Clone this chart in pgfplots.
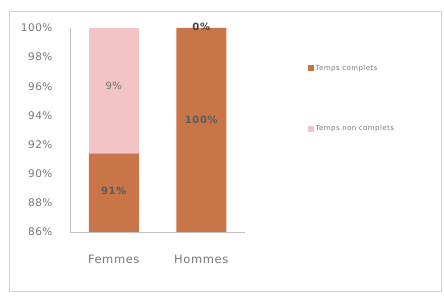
\documentclass[border=0pt]{standalone}
\usepackage{pgfplots}
\pgfplotsset{compat=1.18}
\usepackage{fontspec}
\setmainfont{DejaVu Sans}
\newfontfamily\lab[LetterSpace=5]{DejaVu Sans}
\newfontfamily\blab[LetterSpace=6]{DejaVu Sans}
\definecolor{brun}{RGB}{200,118,72}
\definecolor{rose}{RGB}{242,196,198}
\definecolor{txt}{RGB}{120,120,120}
\begin{document}
\begin{tikzpicture}[x=1pt,y=1pt]
\fill[white] (0,0) rectangle (444,297);
\draw[black!18, line width=1pt] (9,6) rectangle (441,285);
\begin{axis}[
  at={(70pt,65pt)}, anchor=south west,
  scale only axis, width=175pt, height=204pt,
  ybar stacked, bar width=50pt,
  ymin=86, ymax=100, xmin=-0.5, xmax=1.5,
  ytick={86,88,...,100},
  yticklabel={\pgfmathprintnumber{\tick}\%},
  /pgf/number format/assume math mode=true,
  xtick={0,1}, xticklabels={Femmes,Hommes},
  major tick length=0pt,
  axis x line*=bottom, axis y line*=left,
  axis line style={black!25, line width=0.8pt},
  yticklabel style={font=\lab\fontsize{10.5}{12}\selectfont, text=txt, xshift=-14pt},
  xticklabel style={font=\lab\fontsize{11.5}{13}\selectfont, text=txt, yshift=-20pt},
  legend style={at={(1.34,0.84)}, anchor=north west, draw=none, fill=none,
    font=\blab\fontsize{7}{8}\selectfont, text=txt, row sep=50pt},
  legend cell align=left,
  legend image code/.code={\fill[#1] (0pt,-3pt) rectangle (6pt,3pt);},
]
\addplot[fill=brun, draw=none] coordinates {(0,91.4) (1,100)};
\addplot[fill=rose, draw=none] coordinates {(0,8.6) (1,0)};
\legend{Temps complets, Temps non complets}
\coordinate (l1) at (axis cs:0,88.8);
\coordinate (l2) at (axis cs:0,96.0);
\coordinate (l3) at (axis cs:1,93.7);
\coordinate (l4) at (axis cs:1,100.1);
\end{axis}
\node[font=\blab\fontsize{10}{12}\selectfont\bfseries, text=black!65] at (l1) {91\%};
\node[font=\blab\fontsize{10}{12}\selectfont, text=black!55] at (l2) {9\%};
\node[font=\blab\fontsize{10}{12}\selectfont\bfseries, text=black!65] at (l3) {100\%};
\node[font=\blab\fontsize{10}{12}\selectfont\bfseries, text=black!75] at (l4) {0\%};
\end{tikzpicture}
\end{document}
